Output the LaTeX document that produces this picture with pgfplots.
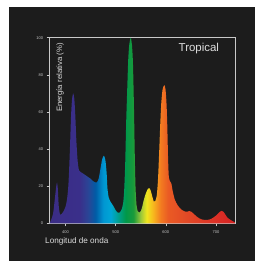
\documentclass[border=0pt]{standalone}
\usepackage{fontspec}
\setmainfont{Liberation Sans}
\usepackage{pgfplots}
\pgfplotsset{compat=1.18}
\definecolor{bgdark}{HTML}{1C1C1C}
\definecolor{axgray}{HTML}{C8C8C8}
\definecolor{txtgray}{HTML}{DCDCDC}
\definecolor{s01}{HTML}{3B2D86}
\definecolor{s02}{HTML}{3A2F8A}
\definecolor{s03}{HTML}{2A4596}
\definecolor{s04}{HTML}{005CA6}
\definecolor{s05}{HTML}{0096D2}
\definecolor{s06}{HTML}{00A6D6}
\definecolor{s07}{HTML}{00A090}
\definecolor{s08}{HTML}{00984A}
\definecolor{s09}{HTML}{1A9A3A}
\definecolor{s10}{HTML}{9CC83A}
\definecolor{s11}{HTML}{F0E61E}
\definecolor{s12}{HTML}{F7B51E}
\definecolor{s13}{HTML}{F27A20}
\definecolor{s14}{HTML}{EA5A24}
\definecolor{s15}{HTML}{E24A26}
\definecolor{s16}{HTML}{DC3026}
\definecolor{s17}{HTML}{D42222}
\pgfdeclarehorizontalshading{spectrum}{100bp}{color(0bp)=(s01); color(25bp)=(s01); color(33.1bp)=(s02); color(35.4bp)=(s03); color(37.4bp)=(s04); color(39.5bp)=(s05); color(41.5bp)=(s06); color(43.5bp)=(s07); color(45.5bp)=(s08); color(47.6bp)=(s09); color(49.6bp)=(s10); color(51.2bp)=(s11); color(53.0bp)=(s12); color(55.0bp)=(s13); color(57.0bp)=(s14); color(61.8bp)=(s15); color(69.9bp)=(s16); color(75bp)=(s17); color(100bp)=(s17)}
\begin{document}
\begin{tikzpicture}[x=1bp,y=1bp]
\useasboundingbox (0,0) rectangle (255,261);
\fill[white] (0,0) rectangle (255,261);
\fill[bgdark] (9,0) rectangle (255,254);
\begin{axis}[
  at={(49.5bp,37.7bp)}, anchor=south west,
  scale only axis, width=185.5bp, height=185.6bp,
  xmin=368, xmax=738, ymin=0, ymax=100,
  axis line style={axgray, line width=0.8pt},
  tick pos=left, tick align=outside,
  major tick length=3bp,
  tick style={axgray, line width=0.6pt},
  xtick={400,500,600,700}, ytick={0,20,40,60,80,100},
  /pgf/number format/assume math mode=true,
  tick label style={font=\fontsize{4}{4}\selectfont, text=axgray},
  xticklabel style={yshift=-1bp},
  clip=false,
]
\addplot[draw=none, shading=spectrum, smooth, tension=0.4, forget plot] coordinates {
(368,0) (370,1) (375,5) (379,14) (381.5,20) (383,22) (384.5,19) (386.5,9) (389,4.8) (392,5)
(396,6.5) (400,9) (403,13) (405.5,20) (407,28) (409,42) (411,58) (413,67) (415.3,70) (417.5,67)
(419.5,58) (421.5,45) (424,34) (427,28.5) (434,27) (442,25.5) (450,24) (456,22.5) (462,22) (466,24)
(470,30) (473,34.5) (476.5,36.5) (479.5,34) (482,27) (483.5,19) (486,14) (490,11.5) (495,9.5) (500,7)
(504,5.8) (508,5.8) (512,7.5) (515,11) (517,18) (519,32) (521,55) (523,72) (525,88) (527,96)
(530,100) (532.5,96) (534.5,86) (536.5,62) (538,38) (539.5,20) (541.5,10) (544,6.5) (547,5.7) (550,6.5)
(553,9) (556,12.5) (560,16) (564,18.5) (567,19) (570,17.5) (573,14.5) (576,11.7) (579,12) (582,15)
(584.5,24) (587,40) (589,54) (591,65) (593.5,72) (597,74.5) (599.5,72) (601.5,64) (603,52) (604.5,35)
(606,25) (608.5,22.6) (611,21.5) (614,17) (618,12.7) (623,10) (628,8.2) (633,7) (639,6.3) (643,6.3)
(647,6.6) (651,6.2) (656,5) (661,3.8) (666,2.8) (673,2) (682,1.8) (690,2.3) (696,3.3) (702,4.6)
(707,6) (711,6.7) (715,6.2) (719,4.6) (723,3) (728,2) (733,1.2) (738,0.5)
} \closedcycle;
\node[rotate=90, anchor=east, text=txtgray, font=\fontsize{7.8}{8}\selectfont, inner sep=0pt] at (rel axis cs:0.057,0.971) {Energía relativa (\%)};
\node[anchor=base east, text=txtgray, font=\fontsize{11.5}{12}\selectfont, inner sep=0pt] at (rel axis cs:0.915,0.928) {Tropical};
\node[anchor=base west, text=txtgray, font=\fontsize{8.2}{9}\selectfont, inner sep=0pt] at (rel axis cs:-0.024,-0.108) {Longitud de onda};
\end{axis}
\end{tikzpicture}
\end{document}
